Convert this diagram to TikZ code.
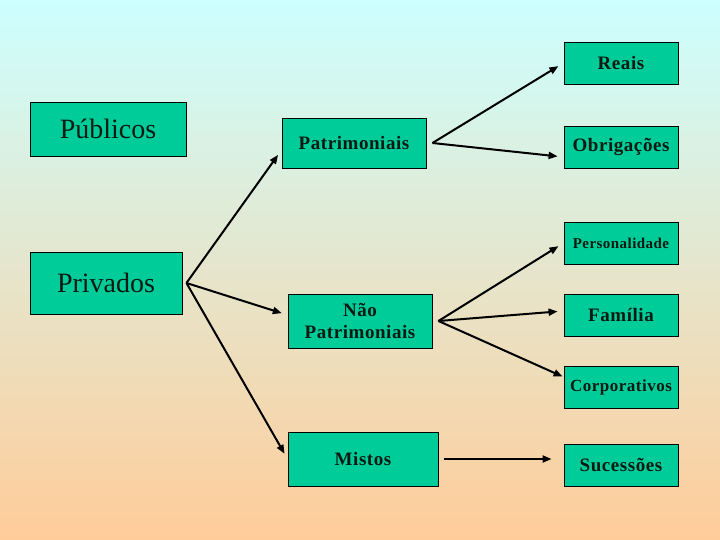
\documentclass[tikz,border=0pt]{standalone}
\usepackage{fontspec}
\setmainfont{Liberation Serif}[BoldFeatures={LetterSpace=3}]
\usetikzlibrary{arrows.meta,calc}
\definecolor{sky}{HTML}{CCFFFF}
\definecolor{peach}{HTML}{FFCC99}
\definecolor{teal}{HTML}{00CC99}
\definecolor{inkgreen}{HTML}{0A1A12}
\tikzset{
  box/.style={draw=black, fill=teal, line width=0.9pt, inner sep=0pt, align=center,
    text=inkgreen, font=\bfseries\fontsize{19}{22}\selectfont},
  big/.style={box, font=\fontsize{28}{30}\selectfont},
  leaf/.style={box, minimum width=114pt, minimum height=42pt},
  arrow/.style={-{Triangle[length=9pt,width=7pt]}, line width=2pt, shorten >=6pt},
}
\begin{document}
\begin{tikzpicture}[x=1pt, y=-1pt]
\fill[top color=sky, bottom color=peach] (0,0) rectangle (720,540);
\useasboundingbox (0,0) rectangle (720,540);
% left column
\node[big, minimum width=156pt, minimum height=54pt] (pub) at (108,129) {Públicos};
\node[big, minimum width=152pt, minimum height=62pt] (priv) at (106,283) {Privados};
% middle column
\node[box, minimum width=144pt, minimum height=50pt] (pat) at (354,143) {Patrimoniais};
\node[box, minimum width=144pt, minimum height=54pt] (npat) at (360,321) {Não\\Patrimoniais};
\node[box, minimum width=150pt, minimum height=54pt] (mis) at (363,459) {Mistos};
% right column
\node[leaf] (reais) at (621,63) {Reais};
\node[leaf] (obr) at (621,147) {Obrigações};
\node[leaf, font=\bfseries\fontsize{15}{17}\selectfont] (pers) at (621,243) {Personalidade};
\node[leaf] (fam) at (621,315) {Família};
\node[leaf, font=\bfseries\fontsize{17}{19}\selectfont] (corp) at (621,387) {Corporativos};
\node[leaf] (suc) at (621,465) {Sucessões};
% split points
\coordinate (priv-o) at ([xshift=4pt]priv.east);
\coordinate (pat-o) at ([xshift=6pt]pat.east);
\coordinate (npat-o) at ([xshift=6pt]npat.east);
\coordinate (mis-o) at ([xshift=6pt]mis.east);
% connectors
\draw[arrow] (priv-o) -- ($(pat.west)+(0,7)$);
\draw[arrow] (priv-o) -- ($(npat.west)+(0,-6)$);
\draw[arrow] (priv-o) -- (mis.west);
\draw[arrow] (pat-o) -- (reais.west);
\draw[arrow] (pat-o) -- ($(obr.west)+(0,10)$);
\draw[arrow] (npat-o) -- (pers.west);
\draw[arrow] (npat-o) -- ($(fam.west)+(0,-4)$);
\draw[arrow, shorten >=1pt] (npat-o) -- ($(corp.west)+(0,-10)$);
\draw[arrow, shorten >=12pt] (mis-o) -- (mis-o -| suc.west);
\end{tikzpicture}
\end{document}
